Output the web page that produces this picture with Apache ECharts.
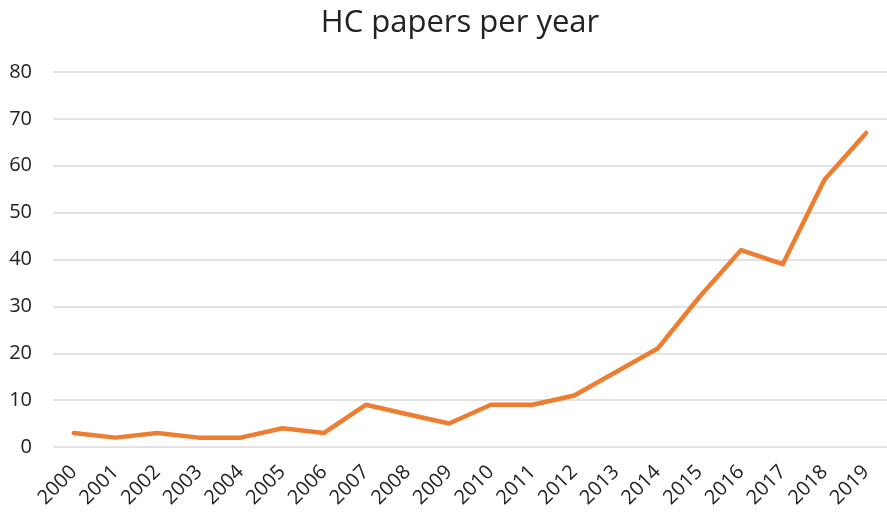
<!DOCTYPE html>
<html>
<head>
<meta charset="utf-8">
<script src="https://cdn.jsdelivr.net/npm/echarts@6/dist/echarts.min.js"></script>
<style>
  html, body { margin: 0; padding: 0; background: #fff; }
  #chart { width: 887px; height: 513px; }
</style>
</head>
<body>
<div id="chart"></div>
<script>
const years = ['2000', '2001', '2002', '2003', '2004', '2005', '2006', '2007', '2008', '2009',
               '2010', '2011', '2012', '2013', '2014', '2015', '2016', '2017', '2018', '2019'];
const papers = [3, 2, 3, 2, 2, 4, 3, 9, 7, 5, 9, 9, 11, 16, 21, 32, 42, 39, 57, 67];
const yTicks = { min: 0, max: 80, interval: 10 };

const font = '"Open Sans", "Noto Sans", sans-serif';
const chart = echarts.init(document.getElementById('chart'));
chart.setOption({
    animation: false,
    title: {
        text: 'HC papers per year',
        left: 455,
        textAlign: 'center',
        top: 3,
        textStyle: { fontFamily: font, fontSize: 31, fontWeight: 'normal', color: '#222' }
    },
    grid: {
        left: 53,
        right: -1,
        top: 72,
        bottom: 66
    },
    xAxis: {
        type: 'category',
        data: years,
        boundaryGap: true,
        axisLine: { show: false },
        axisTick: { show: false },
        axisLabel: {
            rotate: 45,
            interval: 0,
            margin: 22,
            fontFamily: font,
            fontSize: 20,
            color: '#222'
        }
    },
    yAxis: {
        type: 'value',
        min: yTicks.min,
        max: yTicks.max,
        interval: yTicks.interval,
        axisLine: { show: false },
        axisTick: { show: false },
        splitLine: { lineStyle: { color: '#d9d9d9', width: 1.5 } },
        axisLabel: {
            margin: 21,
            fontFamily: font,
            fontSize: 20,
            color: '#222'
        }
    },
    series: [{
        name: 'HC papers',
        type: 'line',
        data: papers,
        symbol: 'none',
        lineStyle: { color: '#ed7d31', width: 4.5, cap: 'round', join: 'round' }
    }]
});
</script>
</body>
</html>
